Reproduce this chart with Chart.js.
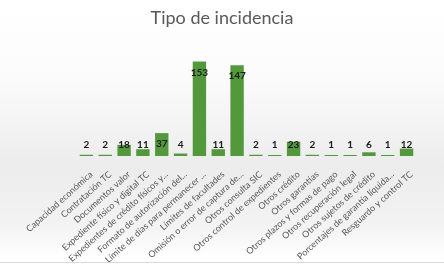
<!DOCTYPE html>
<html>
<head>
<meta charset="utf-8">
<script src="https://cdn.jsdelivr.net/npm/chart.js@4/dist/chart.umd.min.js"></script>
<style>
  html, body { margin: 0; padding: 0; }
  body {
    width: 444px; height: 267px; overflow: hidden;
    background: linear-gradient(to bottom, #ffffff 0%, #fbfbfb 30%, #ececec 62%, #f3f3f3 85%, #ffffff 97%);
  }
  #wrap { position: relative; width: 444px; height: 262px; border-bottom: 1px solid #d9d9d9; }
</style>
</head>
<body>
<div id="wrap"><canvas id="chart"></canvas></div>
<script>
// Categorías y valores del gráfico
const categories = [
  'Capacidad económica',
  'Contratación TC',
  'Documentos valor',
  'Expediente físico y digital TC',
  'Expedientes de crédito físicos y...',
  'Formato de autorización del...',
  'Límite de días para permanecer ...',
  'Límites de facultades',
  'Omisión o error de captura de...',
  'Otros consulta SIC',
  'Otros control de expedientes',
  'Otros crédito',
  'Otros garantías',
  'Otros plazos y formas de pago',
  'Otros recuperación legal',
  'Otros sujetos de crédito',
  'Porcentajes de garantía líquida...',
  'Resguardo y control TC'
];
const values = [2, 2, 18, 11, 37, 4, 153, 11, 147, 2, 1, 23, 2, 1, 1, 6, 1, 12];
const titleText = 'Tipo de incidencia';

// Etiquetas de valor (dentro del extremo si cabe, si no encima)
const valueLabels = {
  id: 'valueLabels',
  afterDatasetsDraw(chart) {
    const ctx = chart.ctx;
    const meta = chart.getDatasetMeta(0);
    const base = chart.scales.y.getPixelForValue(0);
    ctx.save();
    ctx.font = 'bold 10px Lato, sans-serif';
    ctx.fillStyle = '#1a1a1a';
    ctx.textAlign = 'center';
    ctx.textBaseline = 'middle';
    meta.data.forEach((bar, i) => {
      const y = Math.min(bar.y + 11, base - 11.5);
      ctx.fillText(values[i], bar.x, y);
    });
    ctx.restore();
  }
};

const ctx = document.getElementById('chart').getContext('2d');
new Chart(ctx, {
  type: 'bar',
  data: {
    labels: categories,
    datasets: [{
      data: values,
      backgroundColor: '#529a39',
      borderWidth: 0,
      barPercentage: 0.71,
      categoryPercentage: 1,
      minBarLength: 1
    }]
  },
  options: {
    responsive: true,
    maintainAspectRatio: false,
    animation: false,
    layout: { padding: 0 },
    plugins: {
      legend: { display: false },
      tooltip: { enabled: false },
      title: {
        display: true,
        text: titleText,
        color: '#595959',
        font: { family: 'Lato, sans-serif', size: 18, weight: 'normal' },
        padding: { top: 7.5, bottom: 28 }
      }
    },
    scales: {
      y: {
        display: false,
        min: 0,
        max: 160
      },
      x: {
        grid: { display: false },
        border: { display: false },
        ticks: {
          color: '#595959',
          font: { family: 'Lato, sans-serif', size: 9 },
          minRotation: 42,
          maxRotation: 42,
          autoSkip: false,
          padding: 5,
          labelOffset: 5
        },
        afterFit(scale) {
          // área de trazado fija como en la referencia
          scale.height = 106;
          scale.paddingLeft = 77;
          scale.paddingRight = 28;
        }
      }
    }
  },
  plugins: [valueLabels]
});
</script>
</body>
</html>
